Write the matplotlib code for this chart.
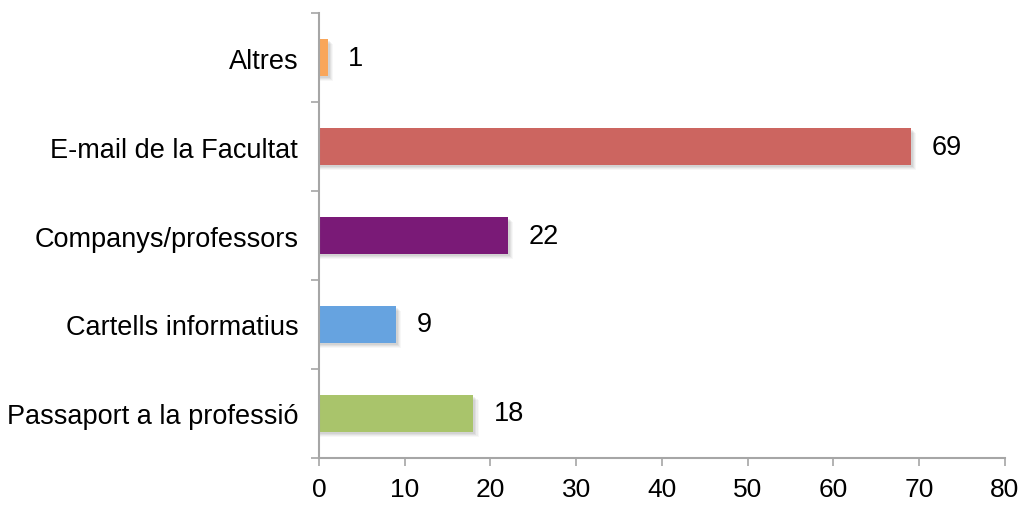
import numpy as np
import matplotlib.pyplot as plt
from matplotlib.patches import Rectangle

categories = ["Passaport a la professió", "Cartells informatius", "Companys/professors",
              "E-mail de la Facultat", "Altres"]
values = [18, 9, 22, 69, 1]
colors = ["#A9C46B", "#66A3E0", "#7A1A77", "#CC6560", "#F9A65A"]

plt.rcParams['font.family'] = ['Liberation Sans', 'DejaVu Sans']

fig = plt.figure(figsize=(10.23, 5.06), dpi=100)
ax = fig.add_axes([0.3118, 0.0929, 0.6706, 0.8794])

y = np.arange(len(categories))
bar_h = 0.42

# soft shadow under each bar
for yi, v in zip(y, values):
    for k, a in enumerate([0.06, 0.05, 0.04, 0.03]):
        off = 0.02 + k * 0.012
        ax.add_patch(Rectangle((0, yi - bar_h / 2 - off), v + 0.25 + k * 0.12, bar_h,
                               color="black", alpha=a, lw=0, zorder=1))

ax.barh(y, values, height=bar_h, color=colors, zorder=2)

for yi, v in zip(y, values):
    ax.text(v + 2.4, yi, str(v), va="center", ha="left", fontsize=19.5)

ax.set_xlim(0, 80)
ax.set_ylim(-0.5, len(categories) - 0.5)
ax.set_xticks(range(0, 81, 10))
ax.set_yticks(np.arange(-0.5, len(categories), 1))
ax.set_yticklabels([])
ax.set_yticks(y, minor=True)
ax.set_yticklabels(categories, minor=True)

ax.tick_params(axis="y", which="major", length=6, color="#A6A6A6", width=1.2)
ax.tick_params(axis="y", which="minor", length=0, pad=15, labelsize=19.5)
ax.tick_params(axis="x", length=6, color="#A6A6A6", width=1.2, labelsize=19, pad=8)

for s in ["top", "right"]:
    ax.spines[s].set_visible(False)
for s in ["left", "bottom"]:
    ax.spines[s].set_color("#A6A6A6")
    ax.spines[s].set_linewidth(1.5)

fig.savefig("out.png", dpi=100)
